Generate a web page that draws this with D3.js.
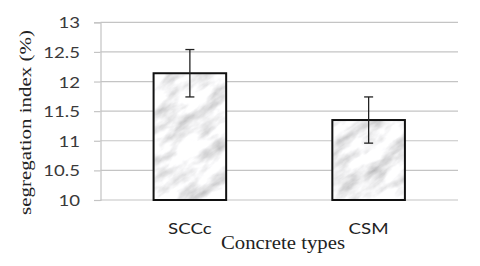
<!DOCTYPE html>
<html>
<head>
<meta charset="utf-8">
<script src="https://cdn.jsdelivr.net/npm/d3@7"></script>
<style>
  html, body { margin: 0; padding: 0; background: #fff; }
  svg { display: block; }
</style>
</head>
<body>
<svg id="chart" width="480" height="266"></svg>
<script>
const categories = ["SCCc", "CSM"];
const values = [12.14, 11.35];
const errors = [0.40, 0.39];
const yTicks = [10, 10.5, 11, 11.5, 12, 12.5, 13];
const yTitle = "segregation index (%)";
const xTitle = "Concrete types";

const svg = d3.select("#chart");
const W = 480, H = 266;
const mLeft = 100.5, mRight = 458, mTop = 22.3, mBottom = 200;

// marble texture
const defs = svg.append("defs");
const f = defs.append("filter").attr("id", "marbleF")
  .attr("filterUnits", "userSpaceOnUse")
  .attr("x", 0).attr("y", 0).attr("width", W * 2).attr("height", H * 2);
f.append("feTurbulence").attr("type", "fractalNoise")
  .attr("baseFrequency", "0.035 0.075").attr("numOctaves", 4).attr("seed", 11);
f.append("feColorMatrix").attr("type", "matrix")
  .attr("values", "1.05 0 0 0 0.37  1.05 0 0 0 0.37  1.05 0 0 0 0.38  0 0 0 0 1");
f.append("feGaussianBlur").attr("stdDeviation", 0.6);
const pat = defs.append("pattern").attr("id", "marble")
  .attr("patternUnits", "userSpaceOnUse")
  .attr("width", W * 2).attr("height", H * 2)
  .attr("patternTransform", "rotate(-35)");
pat.append("rect").attr("width", W * 2).attr("height", H * 2).attr("filter", "url(#marbleF)");

const x = d3.scaleBand().domain(categories).range([mLeft, mRight])
  .paddingInner(0.594).paddingOuter(0.297);
const y = d3.scaleLinear().domain([10, 13]).range([mBottom, mTop]);

// gridlines + ticks
const yAxis = d3.axisLeft(y).tickValues(yTicks).tickSize(6.5).tickFormat(d3.format("~g"));
const gy = svg.append("g").attr("transform", `translate(${mLeft},0)`).call(yAxis);
gy.select(".domain").attr("stroke", "#c4c4c4").attr("stroke-width", 1.2);
gy.selectAll(".tick line").attr("stroke", "#c4c4c4").attr("stroke-width", 1.2);
gy.selectAll(".tick text")
  .attr("x", 0).attr("dy", "0.36em")
  .attr("transform", "translate(-20.5,0) scale(1.2,1)")
  .attr("fill", "#3a3a3a")
  .style("font-family", "Lato, 'Open Sans', sans-serif")
  .style("font-size", "15.5px");
svg.append("g").selectAll("line").data(yTicks).join("line")
  .attr("x1", mLeft).attr("x2", mRight)
  .attr("y1", d => y(d)).attr("y2", d => y(d))
  .attr("stroke", "#c4c4c4").attr("stroke-width", 1.2);

// bars
svg.append("g").selectAll("rect").data(values).join("rect")
  .attr("x", (d, i) => x(categories[i]))
  .attr("y", d => y(d))
  .attr("width", x.bandwidth())
  .attr("height", d => y(10) - y(d))
  .attr("fill", "url(#marble)")
  .attr("stroke", "#111").attr("stroke-width", 2);

// error bars
const eg = svg.append("g").attr("stroke", "#222").attr("stroke-width", 1.3);
values.forEach((v, i) => {
  const cx = x(categories[i]) + x.bandwidth() / 2;
  eg.append("line").attr("x1", cx).attr("x2", cx)
    .attr("y1", y(v + errors[i])).attr("y2", y(v - errors[i]));
  [v + errors[i], v - errors[i]].forEach(e => {
    eg.append("line").attr("x1", cx - 4.5).attr("x2", cx + 4.5)
      .attr("y1", y(e)).attr("y2", y(e));
  });
});

// category labels
svg.append("g").selectAll("text").data(categories).join("text")
  .attr("transform", d => `translate(${x(d) + x.bandwidth() / 2},234) scale(1.17,1)`)
  .attr("text-anchor", "middle")
  .attr("fill", "#222")
  .style("font-family", "Lato, 'Open Sans', sans-serif")
  .style("font-size", "16px")
  .text(d => d);

// axis titles
svg.append("text")
  .attr("x", 283).attr("y", 248.5)
  .attr("text-anchor", "middle")
  .attr("textLength", 124).attr("lengthAdjust", "spacingAndGlyphs")
  .attr("fill", "#222")
  .style("font-family", "'Liberation Serif', 'DejaVu Serif', serif")
  .style("font-size", "18px")
  .text(xTitle);
svg.append("text")
  .attr("transform", "translate(31,122.5) rotate(-90)")
  .attr("text-anchor", "middle")
  .attr("textLength", 185).attr("lengthAdjust", "spacingAndGlyphs")
  .attr("fill", "#222")
  .style("font-family", "'Liberation Serif', 'DejaVu Serif', serif")
  .style("font-size", "17px")
  .text(yTitle);
</script>
</body>
</html>
